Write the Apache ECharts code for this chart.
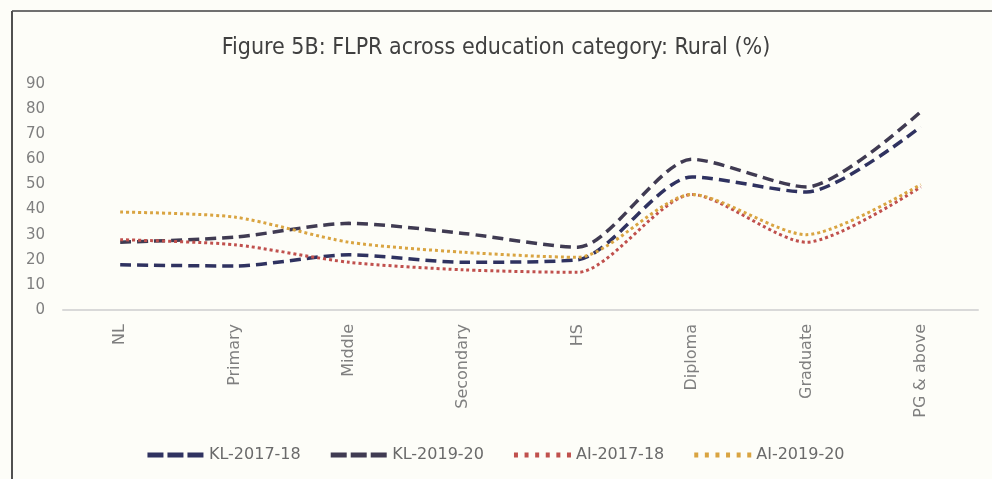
<!DOCTYPE html>
<html>
<head>
<meta charset="utf-8">
<script src="https://cdn.jsdelivr.net/npm/echarts@6/dist/echarts.min.js"></script>
<style>
html,body{margin:0;padding:0;background:#fdfdf8;}
#c{width:992px;height:479px;}
</style>
</head>
<body>
<div id="c"></div>
<script>
const categories = ['NL','Primary','Middle','Secondary','HS','Diploma','Graduate','PG & above'];
const kl2017 = [18, 17.5, 22, 19, 20, 53, 47, 73];
const kl2019 = [27, 29, 34.5, 30.5, 25, 60, 49, 79];
const ai2017 = [28, 26, 19, 16, 15, 46, 27, 49];
const ai2019 = [39, 37, 27, 23, 21, 46, 30, 50];
const yTicks = [0, 90, 10];

const dashIcon = 'path://M0,0h16v5h-16z M20,0h16v5h-16z M40,0h16v5h-16z';
const dotIcon = 'path://M0,0h4v5h-4z M10.6,0h4v5h-4z M21.2,0h4v5h-4z M31.8,0h4v5h-4z M42.4,0h4v5h-4z M53,0h4v5h-4z';

const chart = echarts.init(document.getElementById('c'));
const mk = (name, data, color, type, width) => ({
  name, type: 'line', data, smooth: 0.25, symbol: 'none',
  lineStyle: { color, width, type },
  itemStyle: { color }
});
chart.setOption({
  backgroundColor: '#fdfdf8',
  animation: false,
  title: {
    text: 'Figure 5B: FLPR across education category: Rural (%)',
    left: 'center', top: 32,
    textStyle: { fontFamily: 'DejaVu Sans Condensed, sans-serif', fontSize: 23, fontWeight: 'normal', color: '#404040' }
  },
  graphic: [
    { type: 'line', shape: { x1: 12, y1: 11, x2: 992, y2: 11 }, style: { stroke: '#707070', lineWidth: 2 } },
    { type: 'line', shape: { x1: 12, y1: 11, x2: 12, y2: 479 }, style: { stroke: '#505050', lineWidth: 2 } }
  ],
  grid: { left: 63, right: 14, top: 84, bottom: 169 },
  legend: {
    top: 442, left: 'center', itemWidth: 57, itemHeight: 5, itemGap: 30,
    textStyle: { color: '#6a6a6a', fontSize: 16, fontFamily: 'DejaVu Sans, sans-serif' },
    data: [
      { name: 'KL-2017-18', icon: dashIcon },
      { name: 'KL-2019-20', icon: dashIcon },
      { name: 'AI-2017-18', icon: dotIcon },
      { name: 'AI-2019-20', icon: dotIcon }
    ]
  },
  xAxis: {
    type: 'category', data: categories, boundaryGap: true,
    axisLine: { lineStyle: { color: '#d9d9d9', width: 2 } },
    axisTick: { show: false },
    axisLabel: { rotate: 90, color: '#7f7f7f', fontSize: 16, margin: 14, interval: 0, fontFamily: 'DejaVu Sans, sans-serif' }
  },
  yAxis: {
    type: 'value', min: yTicks[0], max: yTicks[1], interval: yTicks[2],
    splitLine: { show: false }, axisLine: { show: false }, axisTick: { show: false },
    axisLabel: { color: '#7f7f7f', fontSize: 15, margin: 18, fontFamily: 'DejaVu Sans, sans-serif' }
  },
  series: [
    mk('KL-2017-18', kl2017, '#2f3260', [11, 6], 3.5),
    mk('KL-2019-20', kl2019, '#403b52', [11, 6], 3.5),
    mk('AI-2017-18', ai2017, '#c0504d', [3, 3], 3),
    mk('AI-2019-20', ai2019, '#d9a441', [3, 3], 3)
  ]
});
</script>
</body>
</html>
